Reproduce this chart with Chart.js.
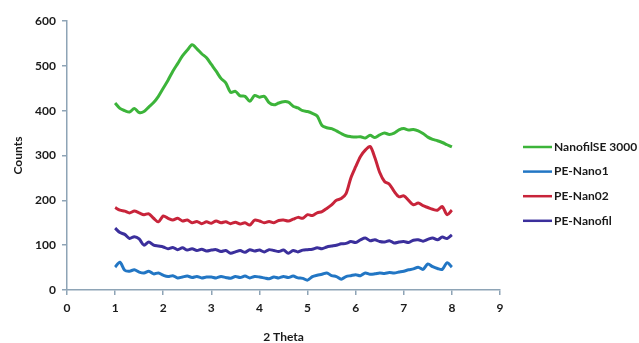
<!DOCTYPE html>
<html>
<head>
<meta charset="utf-8">
<script src="https://cdn.jsdelivr.net/npm/chart.js@4"></script>
<style>
	html, body { margin: 0; padding: 0; background: #fff; }
	#wrap { width: 639px; height: 343px; }
</style>
</head>
<body>
<div id="wrap"><canvas id="chart" width="639" height="343"></canvas></div>
<script>
// 2 theta sampling
const thetas = [
	1.0, 1.1, 1.2, 1.3, 1.4, 1.5, 1.6, 1.7, 1.8, 1.9,
	2.0, 2.1, 2.2, 2.3, 2.4, 2.5, 2.6, 2.7, 2.8, 2.9,
	3.0, 3.1, 3.2, 3.3, 3.4, 3.5, 3.6, 3.7, 3.8, 3.9,
	4.0, 4.1, 4.2, 4.3, 4.4, 4.5, 4.6, 4.7, 4.8, 4.9,
	5.0, 5.1, 5.2, 5.3, 5.4, 5.5, 5.6, 5.7, 5.8, 5.9,
	6.0, 6.1, 6.2, 6.3, 6.4, 6.5, 6.6, 6.7, 6.8, 6.9,
	7.0, 7.1, 7.2, 7.3, 7.4, 7.5, 7.6, 7.7, 7.8, 7.9,
	8.0,
]

const seriesNames = ['NanofilSE 3000', 'PE-Nano1', 'PE-Nan02', 'PE-Nanofil']

const nanofilSE = [
	417, 405, 400, 397, 405, 396, 398, 408, 418, 432,
	450, 468, 488, 505, 522, 535, 547, 538, 527, 518,
	503, 488, 472, 462, 441, 443, 433, 432, 421, 434,
	430, 432, 418, 413, 417, 420, 419, 410, 406, 400,
	398, 394, 388, 367, 362, 360, 355, 349, 344, 342,
	341, 342, 339, 345, 340, 346, 350, 347, 350, 357,
	360, 357, 358, 355, 349, 341, 336, 333, 329, 324,
	319,
]

const peNano1 = [
	51, 62, 44, 42, 45, 40, 38, 42, 36, 38,
	33, 30, 32, 27, 29, 31, 28, 30, 27, 29,
	29, 27, 30, 28, 26, 30, 28, 31, 27, 30,
	29, 27, 25, 29, 27, 30, 28, 31, 27, 26,
	22, 30, 33, 35, 38, 32, 30, 24, 30, 32,
	34, 32, 38, 35, 36, 38, 37, 39, 38, 40,
	42, 45, 47, 51, 46, 58, 52, 48, 46, 61,
	51,
]

const peNan02 = [
	184, 178, 176, 172, 176, 172, 168, 170, 160, 152,
	165, 160, 156, 160, 154, 156, 150, 153, 148, 152,
	149, 154, 150, 152, 148, 151, 147, 150, 145, 156,
	154, 150, 153, 150, 155, 156, 154, 158, 162, 160,
	168, 166, 172, 175, 182, 190, 200, 204, 215, 250,
	275, 298, 312, 320, 295, 262, 242, 236, 220, 208,
	210, 200, 190, 194, 188, 184, 180, 178, 186, 168,
	178,
]

const peNanofil = [
	138, 128, 124, 115, 119, 114, 100, 107, 100, 98,
	96, 92, 95, 90, 94, 89, 92, 88, 91, 87,
	89, 90, 86, 88, 82, 85, 88, 84, 90, 87,
	89, 85, 90, 88, 86, 89, 82, 88, 85, 89,
	90, 91, 94, 92, 96, 98, 100, 103, 104, 108,
	106, 112, 116, 110, 112, 108, 107, 110, 105, 107,
	108, 106, 111, 112, 109, 113, 116, 112, 118, 115,
	123,
]

const seriesValues = [nanofilSE, peNano1, peNan02, peNanofil]
const seriesColors = ['#3cb43a', '#2276c4', '#c8243a', '#3b2f9c']

const axisColor = '#8ea4b6'
const textColor = '#1a1a1a'
const font = 'Lato, "Open Sans", sans-serif'

const toPoints = (values) => values.map((v, i) => ({ x: thetas[i], y: v }))

const datasets = seriesNames.map((name, i) => ({
	label: name,
	data: toPoints(seriesValues[i]),
	borderColor: seriesColors[i],
	backgroundColor: seriesColors[i],
	borderWidth: 3,
	pointRadius: 0,
	tension: 0.3,
	fill: false,
}))

// legend drawn on the right side like the original
const sideLegend = {
	id: 'sideLegend',
	afterDraw(chart) {
		const ctx = chart.ctx
		ctx.save()
		ctx.font = 'bold 12px ' + font
		ctx.textBaseline = 'middle'
		chart.data.datasets.forEach((ds, i) => {
			const y = 147 + i * 24.6
			ctx.strokeStyle = ds.borderColor
			ctx.lineWidth = 2.5
			ctx.beginPath()
			ctx.moveTo(523, y)
			ctx.lineTo(552, y)
			ctx.stroke()
			ctx.fillStyle = textColor
			ctx.fillText(ds.label, 554, y)
		})
		ctx.restore()
	},
}

new Chart(document.getElementById('chart').getContext('2d'), {
	type: 'line',
	data: { datasets },
	plugins: [sideLegend],
	options: {
		responsive: false,
		animation: false,
		layout: { padding: { top: 21, right: 139, left: 0, bottom: 0 } },
		plugins: {
			legend: { display: false },
			tooltip: { enabled: false },
		},
		scales: {
			x: {
				type: 'linear',
				min: 0,
				max: 9,
				afterFit(scale) { scale.height = 53 },
				border: { color: axisColor, width: 1.5 },
				grid: { drawOnChartArea: false, color: axisColor, tickLength: 5, lineWidth: 1.5 },
				ticks: {
					stepSize: 1,
					color: textColor,
					font: { family: font, size: 12, weight: 'bold' },
					padding: 6,
				},
				title: {
					display: true,
					text: '2 Theta',
					color: textColor,
					font: { family: font, size: 12, weight: 'bold' },
					padding: { top: 0, bottom: -1 },
				},
			},
			y: {
				min: 0,
				max: 600,
				afterFit(scale) { scale.width = 67 },
				border: { color: axisColor, width: 1.5 },
				grid: { drawOnChartArea: false, color: axisColor, tickLength: 5, lineWidth: 1.5 },
				ticks: {
					stepSize: 100,
					color: textColor,
					font: { family: font, size: 12, weight: 'bold' },
					padding: 6,
				},
				title: {
					display: true,
					text: 'Counts',
					color: textColor,
					font: { family: font, size: 12, weight: 'bold' },
					padding: { top: 11, bottom: 0 },
				},
			},
		},
	},
})
</script>
</body>
</html>
